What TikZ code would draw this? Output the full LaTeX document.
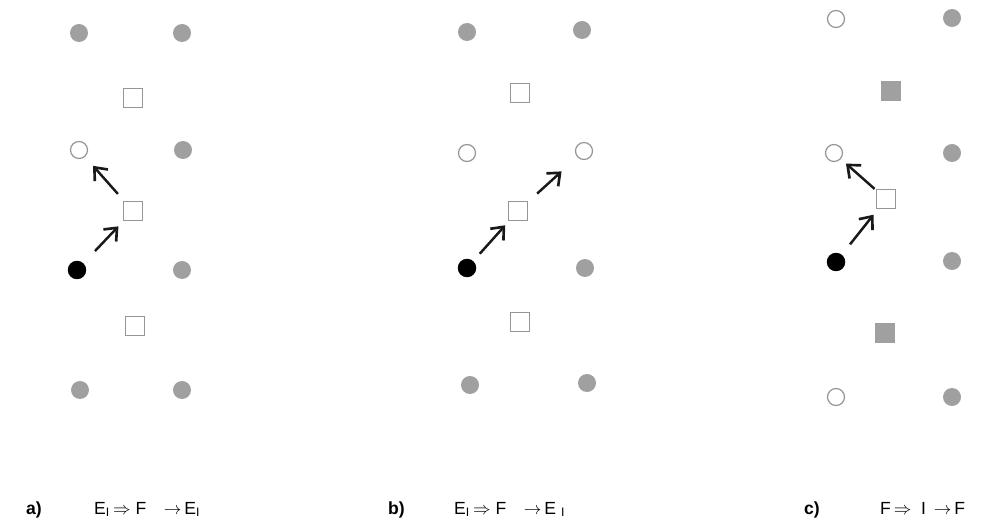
\documentclass[tikz,border=0pt]{standalone}
\usepackage{fontspec}
\setmainfont{Liberation Sans}
\usepackage{tikz}
\usetikzlibrary{arrows.meta, positioning, calc}
\definecolor{atomgray}{RGB}{160, 160, 160}
\definecolor{rimgray}{RGB}{150, 150, 150}

\begin{document}
\begin{tikzpicture}[x=0.02cm, y=-0.02cm,
    lattice/.style={circle, fill=atomgray, minimum size=0.36cm, inner sep=0pt},
    vacancy/.style={circle, draw=rimgray, fill=white, line width=0.7pt, minimum size=0.34cm, inner sep=0pt},
    mover/.style={circle, fill=black, minimum size=0.37cm, inner sep=0pt},
    site/.style={rectangle, draw=rimgray, fill=white, line width=0.7pt, minimum size=0.38cm, inner sep=0pt},
    filled/.style={rectangle, fill=atomgray, minimum size=0.40cm, inner sep=0pt},
    jump/.style={-{Straight Barb[length=6pt, width=10pt, line width=1.5pt]}, line width=1.4pt, black!90},
    caption/.style={font=\normalsize, anchor=base west}
]
\useasboundingbox (0,0) rectangle (982,523);

%% a)
\node[lattice] (aG1) at (79,33)  {};
\node[lattice] (aG2) at (182,33) {};
\node[site]    (aS1) at (133,98) {};
\node[vacancy] (aV)  at (79,150) {};
\node[lattice] (aG3) at (183,150) {};
\node[site]    (aS2) at (133,211) {};
\node[mover]   (aB)  at (77,270) {};
\node[lattice] (aG4) at (182,270) {};
\node[site]    (aS3) at (135,326) {};
\node[lattice] (aG5) at (80,390) {};
\node[lattice] (aG6) at (182,390) {};
\draw[jump] ($(aB)!0.32!(aS2)$) -- ($(aB)!0.74!(aS2)$);
\draw[jump] ($(aS2)!0.28!(aV)$) -- ($(aS2)!0.74!(aV)$);

%% b)
\node[lattice] (bG1) at (467,32) {};
\node[lattice] (bG2) at (582,30) {};
\node[site]    (bS1) at (520,93) {};
\node[vacancy] (bV1) at (467,153) {};
\node[vacancy] (bV2) at (584,151) {};
\node[site]    (bS2) at (518,211) {};
\node[mover]   (bB)  at (467,268) {};
\node[lattice] (bG3) at (585,268) {};
\node[site]    (bS3) at (520,322) {};
\node[lattice] (bG4) at (470,385) {};
\node[lattice] (bG5) at (587,383) {};
\draw[jump] ($(bB)!0.25!(bS2)$) -- ($(bB)!0.75!(bS2)$);
\draw[jump] ($(bS2)!0.29!(bV2)$) -- ($(bS2)!0.66!(bV2)$);

%% c)
\node[vacancy] (cV1) at (836,19)  {};
\node[lattice] (cG1) at (952,18)  {};
\node[filled]  (cF1) at (891,91)  {};
\node[vacancy] (cV2) at (834,153) {};
\node[lattice] (cG2) at (952,153) {};
\node[site]    (cS)  at (886,199) {};
\node[mover]   (cB)  at (836,262) {};
\node[lattice] (cG3) at (952,261) {};
\node[filled]  (cF2) at (885,333) {};
\node[vacancy] (cV3) at (836,397) {};
\node[lattice] (cG4) at (952,397) {};
\draw[jump] ($(cB)!0.28!(cS)$) -- ($(cB)!0.75!(cS)$);
\draw[jump] ($(cS)!0.22!(cV2)$) -- ($(cS)!0.77!(cV2)$);

%% captions
\node[caption] (aL) at (20,514)  {\textbf{a)}};
\node[caption] (aT) at (88,514)  {E$_{\mathrm{I}}$\,$\Rightarrow$\ F\quad$\rightarrow$\,E$_{\mathrm{I}}$};
\node[caption] (bL) at (382,514) {\textbf{b)}};
\node[caption] (bT) at (448,514) {E$_{\mathrm{I}}$\,$\Rightarrow$\ F\quad$\rightarrow$\,E\ $_{\mathrm{I}}$};
\node[caption] (cL) at (798,514) {\textbf{c)}};
\node[caption] (cT) at (874,514) {F\,$\Rightarrow$\ \ I\ \,$\rightarrow$\,F};

\end{tikzpicture}
\end{document}
